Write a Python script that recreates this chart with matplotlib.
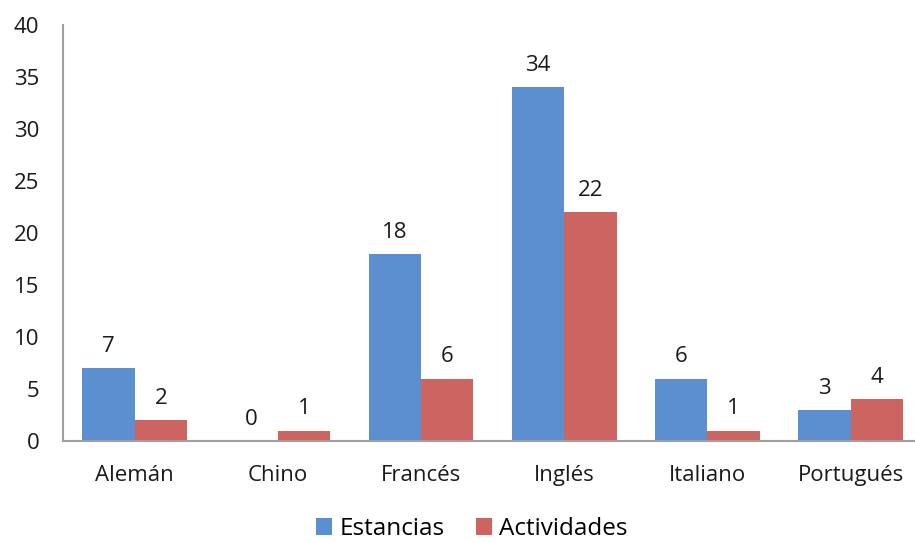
import matplotlib.pyplot as plt
import numpy as np

plt.rcParams['font.family'] = ['Open Sans', 'DejaVu Sans']

idiomas = ['Alemán', 'Chino', 'Francés', 'Inglés', 'Italiano', 'Portugués']
estancias = [7, 0, 18, 34, 6, 3]
actividades = [2, 1, 6, 22, 1, 4]

fig = plt.figure(figsize=(9.15, 5.42), dpi=100)
ax = fig.add_axes([63 / 915, 101 / 542, (915 - 63) / 915, 416 / 542])

x = np.arange(len(idiomas))
w = 0.366
b1 = ax.bar(x - w / 2, estancias, w, color='#5b8fd0', label='Estancias')
b2 = ax.bar(x + w / 2, actividades, w, color='#cc6462', label='Actividades')

for bars in (b1, b2):
    for r in bars:
        ax.annotate(f'{r.get_height():g}', (r.get_x() + r.get_width() / 2, r.get_height()),
                    xytext=(0, 8), textcoords='offset points', ha='center', va='bottom',
                    fontsize=16, color='#1a1a1a')

ax.set_xlim(-0.5, 5.45)
ax.set_ylim(0, 40)
ax.set_yticks(range(0, 41, 5))
ax.set_xticks(x)
ax.set_xticklabels(idiomas)
ax.tick_params(length=0, labelsize=16, colors='#1a1a1a')
ax.tick_params(axis='x', pad=17)
ax.tick_params(axis='y', pad=17)
for s in ('top', 'right'):
    ax.spines[s].set_visible(False)
ax.spines['left'].set_color('#a0a0a0')
ax.spines['bottom'].set_color('#a0a0a0')
ax.spines['left'].set_linewidth(1.5)
ax.spines['bottom'].set_linewidth(1.5)

fig.legend(loc='center', bbox_to_anchor=(472 / 915, 1 - 529 / 542), ncol=2, frameon=False,
           fontsize=17.5, handlelength=0.65, handleheight=0.65, handletextpad=0.3, columnspacing=1.3)

fig.savefig('out.png', dpi=100)
